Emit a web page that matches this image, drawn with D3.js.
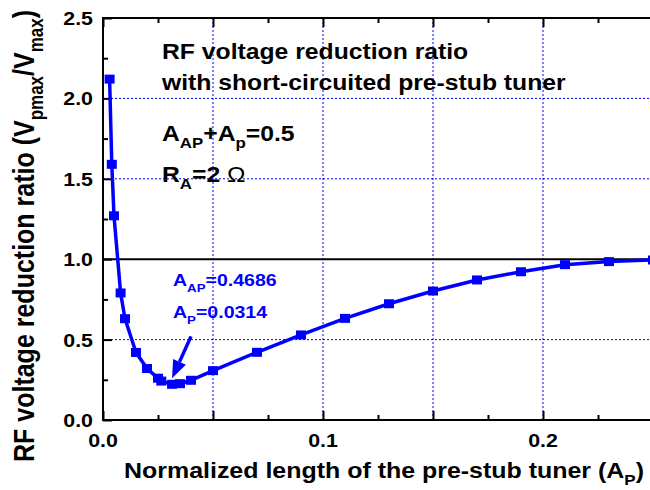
<!DOCTYPE html>
<html>
<head>
<meta charset="utf-8">
<script src="https://cdn.jsdelivr.net/npm/d3@7"></script>
<style>
  html, body { margin: 0; padding: 0; background: #fff; }
  svg { display: block; }
  text { font-family: "Liberation Sans", Arial, sans-serif; font-weight: bold; }
</style>
</head>
<body>
<svg id="chart" width="650" height="490"></svg>
<script>
// Normalized pre-stub length A_P and the resulting RF voltage reduction ratio
const lengthAP = [0.003, 0.004, 0.005, 0.008, 0.010, 0.015, 0.020, 0.025, 0.0265, 0.0314,
                  0.035, 0.040, 0.050, 0.070, 0.090, 0.110, 0.130, 0.150, 0.170, 0.190,
                  0.210, 0.230, 0.250];
const ratio    = [2.12, 1.59, 1.27, 0.79, 0.63, 0.42, 0.32, 0.26, 0.242, 0.222,
                  0.226, 0.247, 0.307, 0.421, 0.529, 0.632, 0.723, 0.802, 0.871, 0.922,
                  0.966, 0.985, 0.995];

const xTickLabels = ["0.0", "0.1", "0.2"];
const xTickValues = [0, 0.1, 0.2];
const yTickLabels = ["0.0", "0.5", "1.0", "1.5", "2.0", "2.5"];
const yTickValues = [0, 0.5, 1.0, 1.5, 2.0, 2.5];
const xMajor = [0, 0.05, 0.1, 0.15, 0.2, 0.25];
const xMinor = [0.025, 0.075, 0.125, 0.175, 0.225];
const yMajor = [0, 0.5, 1.0, 1.5, 2.0, 2.5];
const yMinor = [0.25, 0.75, 1.25, 1.75, 2.25];
const xGrid = [0.05, 0.1, 0.15, 0.2];
const yGrid = [0.5, 1.5, 2.0];

const minPoint = { ap: 0.0314, aap: 0.4686, r: 0.222 };

const BLUE = "#0000ff";
const SX = 1.15;   // glyphs are drawn slightly wide

const svg = d3.select("#chart");
const L = 103, R = 653, T = 18, B = 420;
const x = d3.scaleLinear().domain([0, 0.25]).range([L, R]);
const y = d3.scaleLinear().domain([0, 2.5]).range([B, T]);

// text helper: parts = [[string, isSub, weight], ...]
function label(g, px, py, parts, opt = {}) {
  const size = opt.size || 20;
  const shift = size * 0.33;
  const t = g.append("text")
    .attr("transform", `translate(${px},${py}) scale(${SX},1)` + (opt.rotate ? " rotate(-90)" : ""))
    .attr("font-size", size)
    .attr("fill", opt.fill || "#000")
    .attr("text-anchor", opt.anchor || "start");
  let prevSub = false;
  parts.forEach(([s, sub, weight]) => {
    const dy = sub ? (prevSub ? 0 : shift) : (prevSub ? -shift : 0);
    const ts = t.append("tspan")
      .attr("font-size", sub ? size * 0.68 : size)
      .attr("dy", dy)
      .text(s);
    if (weight) ts.attr("font-weight", weight);
    prevSub = !!sub;
  });
  return t;
}

// dotted grid
const grid = svg.append("g").attr("stroke", BLUE).attr("stroke-width", 1)
  .attr("stroke-dasharray", "2,2");
grid.selectAll(".gx").data(xGrid).join("line")
  .attr("x1", d => x(d)).attr("x2", d => x(d)).attr("y1", T).attr("y2", B);
grid.selectAll(".gy").data(yGrid).join("line")
  .attr("y1", d => y(d)).attr("y2", d => y(d)).attr("x1", L).attr("x2", R);

// reference line at ratio 1
svg.append("line").attr("x1", L).attr("x2", R).attr("y1", y(1)).attr("y2", y(1))
  .attr("stroke", "#000").attr("stroke-width", 2);

// axes with inward ticks
function axisG(axis, tx, ty) {
  const g = svg.append("g").attr("transform", `translate(${tx},${ty})`).call(axis);
  g.selectAll("text").remove();
  g.select(".domain").remove();
  g.selectAll("line").attr("stroke", "#000").attr("stroke-width", 2);
  return g;
}
axisG(d3.axisBottom(x).tickValues(xMajor).tickSize(-9), 0, B);
axisG(d3.axisBottom(x).tickValues(xMinor).tickSize(-5), 0, B);
axisG(d3.axisTop(x).tickValues(xMajor).tickSize(-9), 0, T);
axisG(d3.axisTop(x).tickValues(xMinor).tickSize(-5), 0, T);
axisG(d3.axisLeft(y).tickValues(yMajor).tickSize(-9), L, 0);
axisG(d3.axisLeft(y).tickValues(yMinor).tickSize(-5), L, 0);

svg.append("rect").attr("x", L).attr("y", T).attr("width", R - L).attr("height", B - T)
  .attr("fill", "none").attr("stroke", "#000").attr("stroke-width", 2);

// tick labels
const tl = svg.append("g");
xTickValues.forEach((v, i) => label(tl, x(v), B + 27, [[xTickLabels[i]]], { size: 18.6, anchor: "middle" }));
yTickValues.forEach((v, i) => label(tl, L - 10, y(v) + 7, [[yTickLabels[i]]], { size: 18.6, anchor: "end" }));

// data curve
const pts = lengthAP.map((a, i) => [a, ratio[i]]);
svg.append("path").datum(pts)
  .attr("fill", "none").attr("stroke", BLUE).attr("stroke-width", 3.5)
  .attr("d", d3.line().x(d => x(d[0])).y(d => y(d[1])));
svg.append("g").selectAll("rect").data(pts).join("rect")
  .attr("x", d => x(d[0]) - 5).attr("y", d => y(d[1]) - 4.5)
  .attr("width", 10).attr("height", 9).attr("fill", BLUE);

// arrow to the minimum
const tip = [x(minPoint.ap), y(minPoint.r) - 6];
const tail = [x(0.04), y(0.52)];
const ang = Math.atan2(tip[1] - tail[1], tip[0] - tail[0]);
const hl = 18, hw = 7;
const base = [tip[0] - hl * Math.cos(ang), tip[1] - hl * Math.sin(ang)];
svg.append("line").attr("x1", tail[0]).attr("y1", tail[1]).attr("x2", base[0]).attr("y2", base[1])
  .attr("stroke", BLUE).attr("stroke-width", 3.5);
svg.append("path").attr("fill", BLUE).attr("d", d3.line()([
  tip,
  [base[0] + hw * Math.sin(ang), base[1] - hw * Math.cos(ang)],
  [base[0] - hw * Math.sin(ang), base[1] + hw * Math.cos(ang)]
]) + "Z");

// annotations
const ann = svg.append("g");
label(ann, 173, 286, [["A"], ["AP", true], ["=" + minPoint.aap.toFixed(4)]], { size: 17, fill: BLUE });
label(ann, 173, 318, [["A"], ["P", true], ["=" + minPoint.ap.toFixed(4)]], { size: 17, fill: BLUE });

label(ann, 162, 59, [["RF voltage reduction ratio"]], { size: 21.5 });
label(ann, 162, 90, [["with short-circuited pre-stub tuner"]], { size: 21.5 });
label(ann, 162, 141, [["A"], ["AP", true], ["+A"], ["p", true], ["=0.5"]], { size: 21.5 });
label(ann, 162, 182, [["R"], ["A", true], ["=2 "], ["\u03a9", false, "normal"]], { size: 21.5 });

// axis titles
label(svg, 384, 478, [["Normalized length of the pre-stub tuner (A"], ["P", true], [")"]], { size: 21.7, anchor: "middle" });
label(svg, 34, 236, [["RF voltage reduction ratio (V"], ["pmax", true], ["/V"], ["max", true], [")"]], { size: 25, anchor: "middle", rotate: true });
</script>
</body>
</html>
